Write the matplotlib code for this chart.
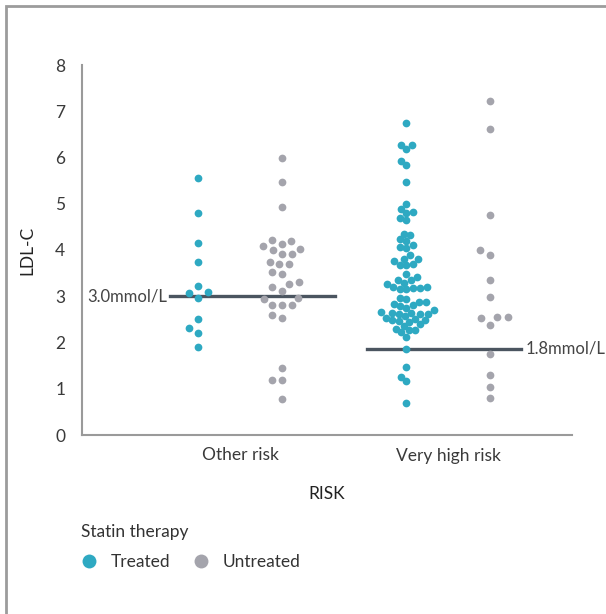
import matplotlib
matplotlib.use("Agg")
import matplotlib.pyplot as plt
import numpy as np
from matplotlib.lines import Line2D
from matplotlib.patches import Rectangle

# ---- data ----
categories = ["Other risk", "Very high risk"]
groups = ["Treated", "Untreated"]

treated_other = [5.55, 4.80, 4.16, 3.75, 3.23, 3.07, 3.09, 2.96, 2.51, 2.32, 2.21, 1.91]
untreated_other = [5.98, 5.47, 4.92, 4.09, 4.14, 4.20, 4.22, 3.91, 3.91, 4.00, 4.02,
                   3.69, 3.69, 3.75, 3.48, 3.52, 3.20, 3.27, 3.30, 2.97, 3.12, 2.95,
                   2.81, 2.81, 2.81, 2.54, 2.59, 1.45, 1.20, 1.20, 0.78]
treated_vhr = [6.74, 6.28, 6.28, 6.19, 5.92, 5.84, 5.48, 4.99, 4.88, 4.83, 4.80, 4.70, 4.65,
               4.32, 4.35, 4.20, 4.23, 4.10, 4.07, 4.04, 3.90,
               3.67, 3.68, 3.70, 3.77, 3.81, 3.81,
               3.35, 3.36, 3.42, 3.49,
               3.15, 3.16, 3.17, 3.19, 3.20, 3.17, 3.26, 3.29,
               2.88, 2.93, 2.97, 2.87,
               2.70, 2.75, 2.78, 2.81, 2.84,
               2.62, 2.64, 2.62, 2.65, 2.64,
               2.46, 2.48, 2.49, 2.51, 2.54, 2.57, 2.62,
               2.26, 2.28, 2.30, 2.36, 2.39, 2.45,
               2.12, 2.22,
               1.86, 1.46, 1.25, 1.17, 0.70]
untreated_vhr = [7.23, 6.62, 4.75, 3.89, 4.01, 3.35, 2.99, 2.38, 2.53, 2.55, 2.55,
                 1.76, 1.29, 1.04, 0.80]

targets = [3.0, 1.86]
target_labels = ["3.0mmol/L", "1.8mmol/L"]
yticks = [0, 1, 2, 3, 4, 5, 6, 7, 8]

colors = {"Treated": "#2ea9c2", "Untreated": "#a4a4ac"}

plt.rcParams['font.family'] = ['Lato', 'DejaVu Sans']

W, H = 606, 614
fig = plt.figure(figsize=(W / 100, H / 100), dpi=100)
ax = fig.add_axes([82 / W, 1 - 435 / H, (572 - 82) / W, (435 - 65) / H])
ax.set_xlim(-0.76, 1.596)
ax.set_ylim(0, 8)


def beeswarm(values, center, spacing_px):
    """Place points side by side around center so they are spacing_px apart."""
    fig.canvas.draw()
    trans = ax.transData
    vals = np.asarray(values, dtype=float)
    pts = trans.transform(np.column_stack([np.full(len(vals), center), vals]))
    cx = pts[0, 0]
    ys = pts[:, 1]
    order = np.argsort(ys)
    xs = np.zeros(len(vals))
    placed = []
    d = spacing_px
    for i in order:
        y = ys[i]
        neigh = [(xs[j], ys[j]) for j in placed if abs(ys[j] - y) < d]
        cands = [0.0]
        for xn, yn in neigh:
            dx = np.sqrt(max(d * d - (yn - y) ** 2, 0.0))
            cands += [xn + dx, xn - dx]
        cands.sort(key=lambda c: (abs(c), c))
        for c in cands:
            if all((c - xn) ** 2 + (yn - y) ** 2 >= d * d - 1e-6 for xn, yn in neigh):
                xs[i] = c
                break
        placed.append(i)
    disp = np.column_stack([cx + xs, ys])
    return trans.inverted().transform(disp)


series = [(0, -0.2, "Treated", treated_other, 11.0),
          (0, 0.2, "Untreated", untreated_other, 10.0),
          (1, -0.2, "Treated", treated_vhr, 6.8),
          (1, 0.2, "Untreated", untreated_vhr, 10.7)]
for cat_i, off, g, vals, sp in series:
    xy = beeswarm(vals, cat_i + off, sp)
    ax.scatter(xy[:, 0], xy[:, 1], s=31, color=colors[g], linewidths=0,
               zorder=3, clip_on=False)

ax.set_xticks([0, 1])
ax.set_xticklabels(categories)
ax.set_yticks(yticks)
ax.set_yticklabels([str(t) for t in yticks])

for s in ["top", "right"]:
    ax.spines[s].set_visible(False)
for s in ["left", "bottom"]:
    ax.spines[s].set_color("#9a9a9a")
    ax.spines[s].set_linewidth(1.5)
ax.tick_params(length=0, labelsize=12.5, colors="#3a3a3a", pad=12)
ax.tick_params(axis="x", pad=9)

ax.set_ylabel("LDL-C", fontsize=12.5, color="#222222", labelpad=14)
ax.set_xlabel("RISK", fontsize=12.5, color="#222222", labelpad=16)

# target lines
line_col = "#4b5560"
ax.plot([-0.337, 0.457], [targets[0]] * 2, color=line_col, lw=2.4, zorder=1)
ax.plot([0.611, 1.351], [targets[1]] * 2, color=line_col, lw=2.4, zorder=1)
ax.text(-0.352, targets[0], target_labels[0], ha="right", va="center",
        fontsize=12, color="#444444")
ax.text(1.375, targets[1], target_labels[1], ha="left", va="center",
        fontsize=12, color="#444444")

# legend
handles = [Line2D([], [], marker="o", linestyle="none", markersize=10,
                  markerfacecolor=colors[g], markeredgewidth=0, label=g)
           for g in groups]
leg = fig.legend(handles=handles, title="Statin therapy", ncol=2, frameon=False,
                 loc="upper left", bbox_to_anchor=(65 / W, 1 - 508 / H),
                 fontsize=12.5, title_fontsize=12.5, alignment="left",
                 handletextpad=0.75, columnspacing=1.25, handlelength=1.0,
                 labelspacing=0.85)
for t in leg.get_texts():
    t.set_color("#333333")
leg.get_title().set_color("#333333")

# outer frame
fig.patches.append(Rectangle((6 / W, -0.05), 1.2, (1 - 6 / H) + 0.05,
                             transform=fig.transFigure, fill=False,
                             edgecolor="#9c9c9c", linewidth=2))

fig.savefig("out.png", dpi=100)
